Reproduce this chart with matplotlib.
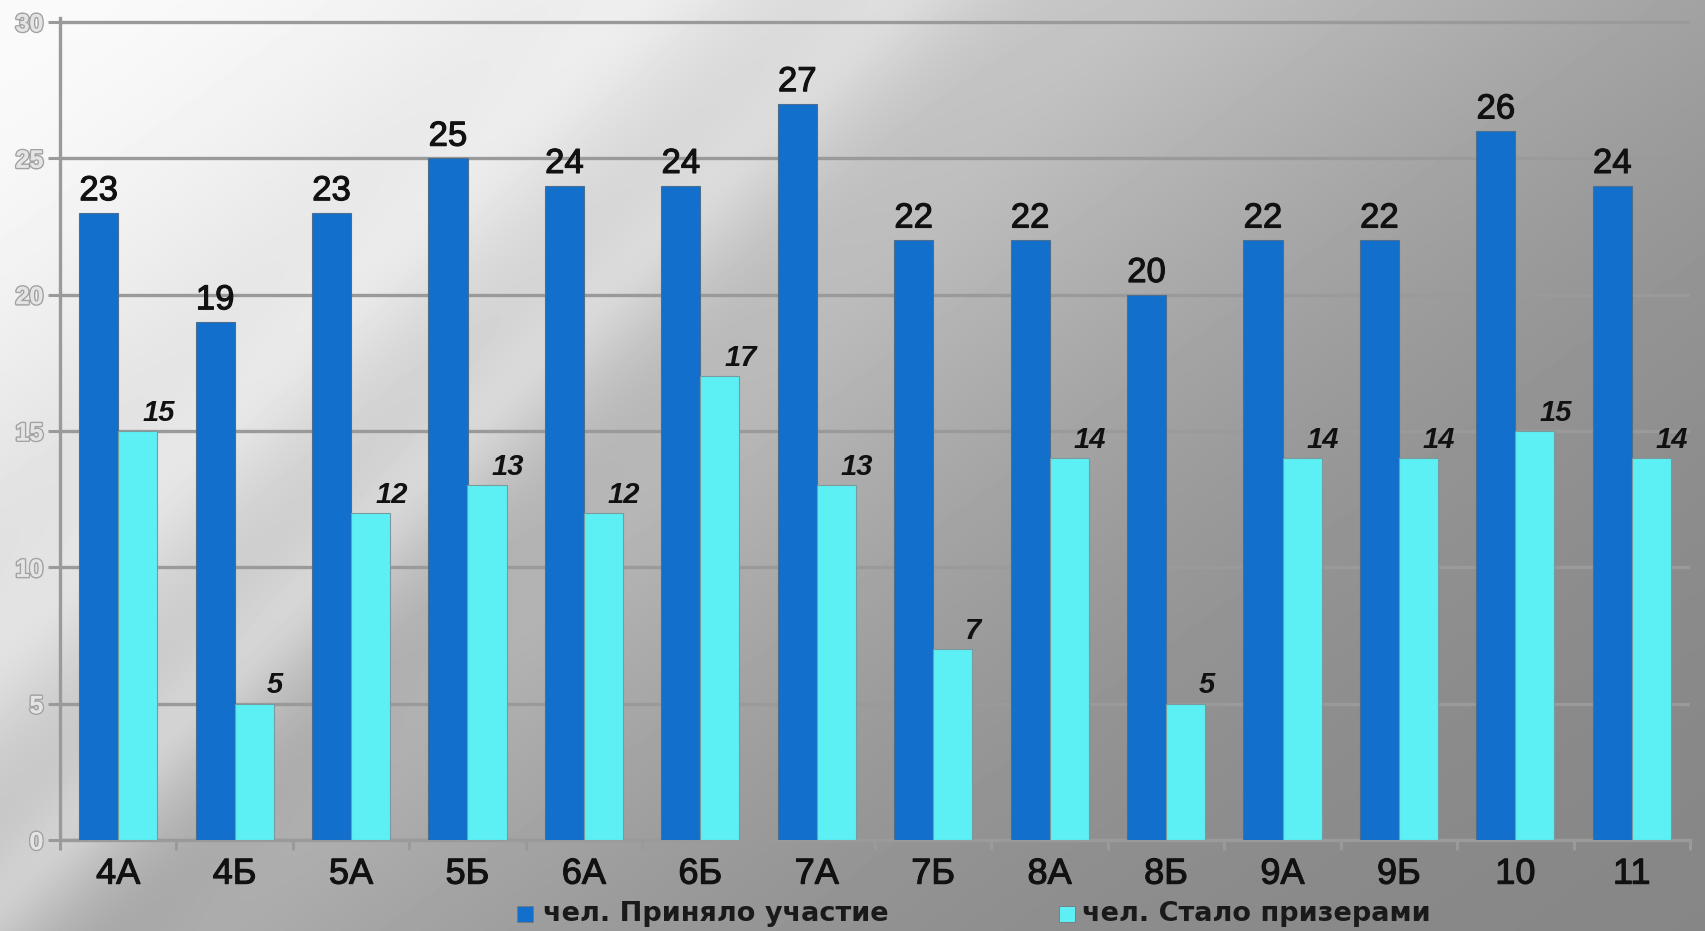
import numpy as np
import matplotlib
matplotlib.use("Agg")
import matplotlib.pyplot as plt
import matplotlib.patheffects as pe
from matplotlib.patches import Rectangle

# ---- data ----
categories = ["4А", "4Б", "5А", "5Б", "6А", "6Б", "7А", "7Б", "8А", "8Б", "9А", "9Б", "10", "11"]
participated = [23, 19, 23, 25, 24, 24, 27, 22, 22, 20, 22, 22, 26, 24]
winners = [15, 5, 12, 13, 12, 17, 13, 7, 14, 5, 14, 14, 15, 14]
series_names = ["чел. Приняло участие", "чел. Стало призерами"]
y_ticks = [0, 5, 10, 15, 20, 25, 30]

W, H = 1705, 931
DARK = "#1270cc"
CYAN = "#5cf0f5"
GRID = "#9a9a9a"
FONT = "Liberation Sans"

fig = plt.figure(figsize=(W / 100, H / 100), dpi=100)

# ---- background gradient ----
yy, xx = np.mgrid[0:H, 0:W]
X = xx / W
Y = yy / H
s = X + 0.75 * Y
b = 0.52 + 0.46 * np.exp(-(s / 0.85) ** 2)
u = (xx + yy).astype(float)
fade = np.exp(-(X / 0.6) ** 2)
b += 0.07 * np.exp(-((u - 900) / 60.0) ** 2) * fade
b += 0.05 * np.exp(-((u - 650) / 80.0) ** 2) * fade
b -= 0.04 * np.exp(-((u - 1050) / 70.0) ** 2) * fade
b = np.clip(b, 0, 1)
bg = fig.add_axes([0, 0, 1, 1])
bg.imshow(b, cmap="gray", vmin=0, vmax=1, aspect="auto", interpolation="bilinear")
bg.set_axis_off()
bg.set_zorder(-10)

# ---- main axes ----
ymax = 30.15
left_px, right_px, y0_px = 60, 1690, 840
unit = 27.27
top_px = y0_px - unit * ymax
ax = fig.add_axes([left_px / W, 1 - y0_px / H, (right_px - left_px) / W, (y0_px - top_px) / H])
ax.set_facecolor("none")
ax.set_xlim(-0.5, len(categories) - 0.5)
ax.set_ylim(0, ymax)

x = np.arange(len(categories))
bw = 0.335
ax.bar(x - bw / 2, participated, bw, color=DARK, edgecolor="#4d6f8f", linewidth=0.8, zorder=3)
ax.bar(x + bw / 2, winners, bw, color=CYAN, edgecolor="#7a9a9c", linewidth=0.8, zorder=3)

thick = [pe.withStroke(linewidth=0.8, foreground="#111111")]
for xi, v in zip(x, participated):
    ax.annotate(str(v), (xi - bw / 2, v), xytext=(0, 4), textcoords="offset points",
                ha="center", va="bottom", fontsize=25, family=FONT, color="#111111",
                path_effects=thick, zorder=5)
for xi, v in zip(x, winners):
    ax.annotate(str(v), (xi + bw / 2, v), xytext=(15, 3), textcoords="offset points",
                ha="center", va="bottom", fontsize=21, family=FONT, fontweight="bold",
                fontstyle="italic", color="#111111", zorder=5)

# grid
ax.set_yticks(y_ticks)
ax.yaxis.grid(True, color=GRID, linewidth=2.4, zorder=1)
ax.set_axisbelow(True)
ax.tick_params(axis="y", length=9, width=2.2, color=GRID, pad=3)
for lbl in ax.get_yticklabels():
    lbl.set_fontsize(18)
    lbl.set_family(FONT)
    lbl.set_fontweight("bold")
    lbl.set_color("#e4e4e4")
    lbl.set_path_effects([pe.withStroke(linewidth=2.2, foreground="#a2a2a2"), pe.Normal()])

# x ticks: marks at boundaries, labels at centers
ax.set_xticks(np.arange(len(categories) + 1) - 0.5)
ax.set_xticklabels([])
ax.tick_params(axis="x", which="major", length=7, width=2.2, color=GRID)
ax.set_xticks(x, minor=True)
ax.set_xticklabels(categories, minor=True, fontsize=26, family=FONT, color="#111111")
ax.tick_params(axis="x", which="minor", length=0, pad=12)
for lbl in ax.get_xticklabels(minor=True):
    lbl.set_path_effects(thick)

for side in ["top", "right"]:
    ax.spines[side].set_visible(False)
ax.spines["left"].set_color(GRID)
ax.spines["left"].set_linewidth(2.4)
ax.spines["bottom"].set_color(GRID)
ax.spines["bottom"].set_linewidth(2.4)

# ---- legend ----
leg_items = [(517, 543, DARK, series_names[0]), (1059, 1082, CYAN, series_names[1])]
for mx, tx, col, name in leg_items:
    fig.patches.append(Rectangle((mx / W, 1 - 922 / H), 16 / W, 16 / H, transform=fig.transFigure,
                                 facecolor=col, edgecolor="#777777", linewidth=0.6))
    fig.text(tx / W, 1 - 914 / H, name, fontsize=19.5, family="DejaVu Sans", fontweight="bold",
             color="#1a1a1a", ha="left", va="center")

fig.savefig("out.png", dpi=100)
